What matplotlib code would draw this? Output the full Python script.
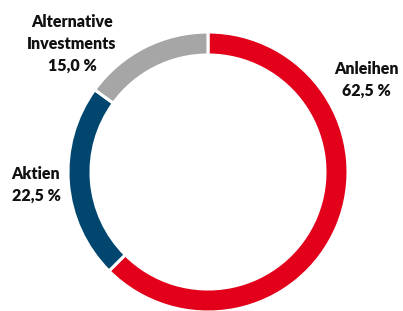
import matplotlib.pyplot as plt

# shares of the portfolio, clockwise from 12 o'clock
labels = ["Anleihen", "Aktien", "Alternative\nInvestments"]
shares = [62.5, 22.5, 15.0]
colors = ["#E2001A", "#00466E", "#A6A6A6"]

# label anchor points (pixel coords, origin bottom-left)
label_xy = [(366, 231), (36, 126), (72, 267)]

W, H = 403, 311
fig = plt.figure(figsize=(W / 100, H / 100), dpi=100)
ax = fig.add_axes([0, 0, 1, 1])

cx, cy, r = 208, H - 172, 140
ax.pie(shares, colors=colors, startangle=90, counterclock=False,
       center=(cx, cy), radius=r,
       wedgeprops=dict(width=23, edgecolor="white", linewidth=2.2))

for name, val, (x, y) in zip(labels, shares, label_xy):
    txt = name + "\n" + f"{val:.1f}".replace(".", ",") + " %"
    ax.text(x, y, txt, ha="center", va="center", fontsize=11.5,
            fontweight="heavy", family="Lato", color="#111111",
            linespacing=1.45)

ax.set_xlim(0, W)
ax.set_ylim(0, H)
ax.set_aspect("equal")
ax.axis("off")

fig.savefig("out.png", dpi=100)
